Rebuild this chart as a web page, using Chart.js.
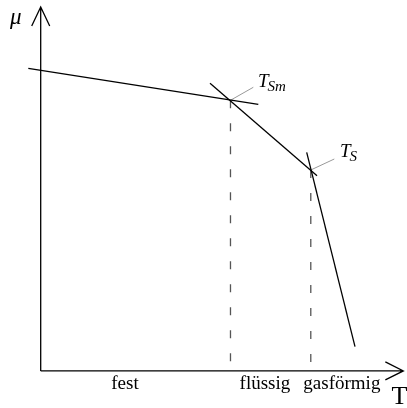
<!DOCTYPE html>
<html>
<head>
<meta charset="utf-8">
<script src="https://cdn.jsdelivr.net/npm/chart.js@4"></script>
<style>
html,body{margin:0;padding:0;background:#fff;}
#c{display:block;}
</style>
</head>
<body>
<canvas id="c" width="407" height="408"></canvas>
<script>
// ---- data (T on horizontal axis, μ on vertical axis, arbitrary units) ----
const festT = [-0.305, 5.347];
const festMu = [8.159, 7.188];
const fluessigT = [4.160, 6.789];
const fluessigMu = [7.754, 5.260];
const gasT = [6.536, 7.722];
const gasMu = [5.894, 0.653];
const transitionT = [4.663, 6.636];
const transitionMu = [7.296, 5.417];
const transitionSub = ['Sm', 'S'];
const leaderEndT = [5.224, 7.214];
const leaderEndMu = [7.647, 5.713];
const labelT = [5.339, 7.354];
const labelMu = [7.655, 5.767];
const regionLabels = ['fest', 'flüssig', 'gasförmig'];
const regionCenterT = [2.07, 5.51, 7.40];
const axisEndT = 8.91;
const axisEndMu = 9.81;
const axisTitles = ['T', 'μ'];

const pts = (xs, ys) => xs.map((x, i) => ({x: x, y: ys[i]}));

const datasets = [
  {data: pts(festT, festMu), borderColor: '#000', borderWidth: 1.3},
  {data: pts(fluessigT, fluessigMu), borderColor: '#000', borderWidth: 1.3},
  {data: pts(gasT, gasMu), borderColor: '#000', borderWidth: 1.3},
];
transitionT.forEach((t, i) => {
  datasets.push({data: [{x: t, y: transitionMu[i]}, {x: t, y: 0}], borderColor: '#555', borderWidth: 1.3, borderDash: [8, 15]});
  datasets.push({data: [{x: t, y: transitionMu[i]}, {x: leaderEndT[i], y: leaderEndMu[i]}], borderColor: '#999', borderWidth: 1});
});
datasets.forEach(d => { d.showLine = true; d.pointRadius = 0; d.fill = false; d.tension = 0; });

const SERIF = '"Liberation Serif", "DejaVu Serif", serif';

const deco = {
  id: 'deco',
  afterDatasetsDraw(chart) {
    const ctx = chart.ctx, xs = chart.scales.x, ys = chart.scales.y;
    const x0 = xs.getPixelForValue(0), y0 = ys.getPixelForValue(0);
    const xe = xs.getPixelForValue(axisEndT), ye = ys.getPixelForValue(axisEndMu);
    ctx.save();
    ctx.strokeStyle = '#000';
    ctx.lineWidth = 1.3;
    ctx.beginPath();
    ctx.moveTo(x0, y0); ctx.lineTo(xe, y0);
    ctx.moveTo(x0, y0); ctx.lineTo(x0, ye);
    // arrow heads
    ctx.moveTo(xe - 18, y0 - 9); ctx.lineTo(xe, y0); ctx.lineTo(xe - 18, y0 + 9);
    ctx.moveTo(x0 - 9, ye + 19); ctx.lineTo(x0, ye); ctx.lineTo(x0 + 9, ye + 19);
    ctx.stroke();

    ctx.fillStyle = '#000';
    // region labels
    ctx.font = '19px ' + SERIF;
    ctx.textAlign = 'center';
    ctx.textBaseline = 'middle';
    regionLabels.forEach((s, i) => {
      ctx.fillText(s, xs.getPixelForValue(regionCenterT[i]), y0 + 13);
    });
    // axis titles
    ctx.font = '26px ' + SERIF;
    ctx.textBaseline = 'alphabetic';
    ctx.fillText(axisTitles[0], xe - 4, y0 + 33);
    ctx.font = 'italic 23px ' + SERIF;
    ctx.fillText(axisTitles[1], x0 - 25, ye + 17);
    // transition labels
    ctx.textAlign = 'left';
    transitionSub.forEach((sub, i) => {
      const px = xs.getPixelForValue(labelT[i]), py = ys.getPixelForValue(labelMu[i]);
      ctx.font = 'italic 19px ' + SERIF;
      ctx.fillText('T', px, py);
      const w = ctx.measureText('T').width;
      ctx.font = 'italic 15px ' + SERIF;
      ctx.fillText(sub, px + w - 1, py + 4);
    });
    ctx.restore();
  }
};

new Chart(document.getElementById('c'), {
  type: 'scatter',
  data: {datasets: datasets},
  options: {
    responsive: false,
    animation: false,
    devicePixelRatio: 1,
    layout: {padding: 0},
    plugins: {legend: {display: false}, tooltip: {enabled: false}},
    scales: {
      x: {type: 'linear', min: -1, max: 9, display: false},
      y: {type: 'linear', min: -1, max: 10, display: false}
    }
  },
  plugins: [deco]
});
</script>
</body>
</html>
